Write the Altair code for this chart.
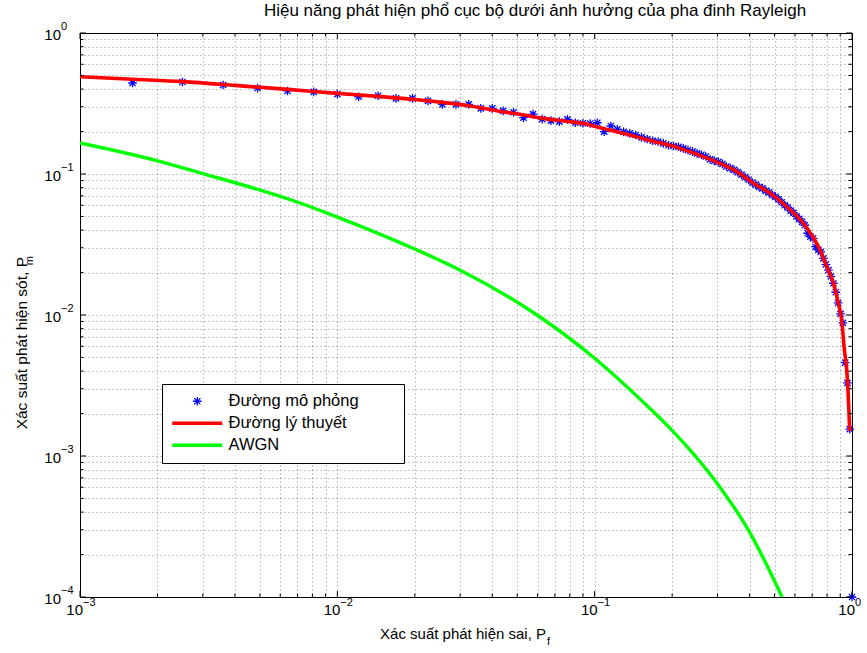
import altair as alt
import pandas as pd

# ---------------- data ----------------
series_names = ["Đường mô phỏng", "Đường lý thuyết", "AWGN"]
series_colors = ["#0000ff", "#ff0000", "#00ff00"]

pf_sim = [0.0016, 0.0025, 0.0036, 0.0049, 0.0064, 0.0081, 0.0100, 0.0121, 0.0144, 0.0169,
          0.0196, 0.0225, 0.0256, 0.0289, 0.0324, 0.0361, 0.0400, 0.0441, 0.0484, 0.0529,
          0.0576, 0.0625, 0.0676, 0.0729, 0.0784, 0.0841, 0.0900, 0.0961, 0.1024, 0.1089,
          0.1156, 0.1225, 0.1296, 0.1369, 0.1444, 0.1521, 0.1600, 0.1681, 0.1764, 0.1849,
          0.1936, 0.2025, 0.2116, 0.2209, 0.2304, 0.2401, 0.2500, 0.2601, 0.2704, 0.2809,
          0.2916, 0.3025, 0.3136, 0.3249, 0.3364, 0.3481, 0.3600, 0.3721, 0.3844, 0.3969,
          0.4096, 0.4225, 0.4356, 0.4489, 0.4624, 0.4761, 0.4900, 0.5041, 0.5184, 0.5329,
          0.5476, 0.5625, 0.5776, 0.5929, 0.6084, 0.6241, 0.6400, 0.6561, 0.6724, 0.6889,
          0.7056, 0.7225, 0.7396, 0.7569, 0.7744, 0.7921, 0.8100, 0.8281, 0.8464, 0.8649,
          0.8836, 0.9025, 0.9216, 0.9409, 0.9604, 0.9801, 1.0000]
pm_sim = [0.442, 0.449, 0.428, 0.407, 0.388, 0.382, 0.369, 0.353, 0.359, 0.344,
          0.344, 0.330, 0.312, 0.312, 0.312, 0.292, 0.292, 0.280, 0.274, 0.251,
          0.266, 0.245, 0.239, 0.235, 0.244, 0.231, 0.229, 0.228, 0.231, 0.200,
          0.219, 0.207, 0.199, 0.194, 0.189, 0.182, 0.177, 0.172, 0.170, 0.165,
          0.160, 0.158, 0.156, 0.152, 0.148, 0.144, 0.140, 0.137, 0.133, 0.127,
          0.124, 0.122, 0.118, 0.113, 0.110, 0.107, 0.103, 0.099, 0.095, 0.091,
          0.087, 0.084, 0.081, 0.079, 0.076, 0.074, 0.071, 0.069, 0.066, 0.063,
          0.060, 0.058, 0.055, 0.053, 0.050, 0.048, 0.0458, 0.0433, 0.0380, 0.0360,
          0.0350, 0.0305, 0.0290, 0.0280, 0.0252, 0.0228, 0.0208, 0.0188, 0.0168, 0.0145,
          0.0122, 0.0102, 0.0088, 0.0046, 0.0033, 0.00155, 0.0001]

pf_th = [0.001, 0.0016, 0.0025, 0.004, 0.005, 0.0064, 0.01, 0.0144, 0.0197, 0.0256,
         0.0324, 0.0416, 0.0529, 0.064, 0.0784, 0.0931, 0.1, 0.1373, 0.16, 0.215,
         0.25, 0.307, 0.336, 0.357, 0.414, 0.481, 0.558, 0.647, 0.708, 0.751,
         0.798, 0.847, 0.885, 0.912, 0.932, 0.96, 0.98]
pm_th = [0.490, 0.470, 0.452, 0.425, 0.412, 0.398, 0.373, 0.355, 0.339, 0.322,
         0.305, 0.281, 0.262, 0.247, 0.236, 0.226, 0.218, 0.189, 0.175, 0.152,
         0.138, 0.119, 0.110, 0.104, 0.0859, 0.073, 0.0586, 0.0447, 0.0353, 0.0289,
         0.0220, 0.0168, 0.0121, 0.0092, 0.0059, 0.0035, 0.0015]

pf_awgn = [0.001, 0.002, 0.00293, 0.00716, 0.01, 0.0204, 0.030, 0.0597, 0.0986,
           0.164, 0.202, 0.289, 0.402, 0.535]
pm_awgn = [0.166, 0.124, 0.102, 0.0623, 0.0495, 0.0289, 0.0208, 0.0100, 0.00504,
           0.00217, 0.00149, 0.000695, 0.000284, 0.0001]

x_major = [0.001, 0.01, 0.1, 1.0]
x_exp = ["−3", "−2", "−1", "0"]
x_minor = [0.002, 0.003, 0.004, 0.005, 0.006, 0.007, 0.008, 0.009,
           0.02, 0.03, 0.04, 0.05, 0.06, 0.07, 0.08, 0.09,
           0.2, 0.3, 0.4, 0.5, 0.6, 0.7, 0.8, 0.9]
y_major = [0.0001, 0.001, 0.01, 0.1, 1.0]
y_exp = ["−4", "−3", "−2", "−1", "0"]
y_minor = [0.0002, 0.0003, 0.0004, 0.0005, 0.0006, 0.0007, 0.0008, 0.0009,
           0.002, 0.003, 0.004, 0.005, 0.006, 0.007, 0.008, 0.009,
           0.02, 0.03, 0.04, 0.05, 0.06, 0.07, 0.08, 0.09,
           0.2, 0.3, 0.4, 0.5, 0.6, 0.7, 0.8, 0.9]

title_text = "Hiệu năng phát hiện phổ cục bộ dưới ảnh hưởng của pha đinh Rayleigh"
xlabel_main, xlabel_sub = "Xác suất phát hiện sai, P", "f"
ylabel_main, ylabel_sub = "Xác suất phát hiện sót, P", "m"

# ---------------- chart ----------------
F = "Liberation Sans"
W, H = 772, 564
STAR = "M-1,0L1,0M0,-1L0,1M-0.72,-0.72L0.72,0.72M-0.72,0.72L0.72,-0.72"

xs = alt.Scale(type="log", domain=[0.001, 1.0], nice=False)
ys = alt.Scale(type="log", domain=[0.0001, 1.0], nice=False)
grid_x = sorted(x_major + x_minor)
grid_y = sorted(y_major + y_minor)

grid_style = dict(grid=True, labels=False, ticks=False, domain=False, title=None,
                  gridDash=[1, 3], gridColor="#000000", gridOpacity=0.45, gridWidth=1)


def X():
    return alt.X("x:Q", scale=xs, axis=alt.Axis(values=grid_x, **grid_style))


def Y():
    return alt.Y("y:Q", scale=ys, axis=alt.Axis(values=grid_y, **grid_style))


df_sim = pd.DataFrame({"x": pf_sim, "y": pm_sim})
df_th = pd.DataFrame({"x": pf_th, "y": pm_th, "series": series_names[1]})
df_awgn = pd.DataFrame({"x": pf_awgn, "y": pm_awgn})

first = series_names[0]
legend = alt.Legend(
    # an invisible (white) title on the right only widens the box like MATLAB's legend
    title="MMMM", titleOrient="right", titleColor="white", titleFontSize=10.8,
    titlePadding=0, titleFont=F,
    orient="none", legendX=82, legendY=351,
    labelFont=F, labelFontSize=16.5, labelColor="black", labelOffset=23, labelLimit=600,
    strokeColor="black", fillColor="white", padding=9, rowPadding=5,
    symbolOffset=18,
    symbolType={"expr": f"datum.value === '{first}' ? '{STAR}' : 'stroke'"},
    symbolSize={"expr": f"datum.value === '{first}' ? 75 : 2500"},
    symbolStrokeWidth={"expr": f"datum.value === '{first}' ? 1.3 : 3.5"},
)

points = alt.Chart(df_sim).mark_point(shape=STAR, size=75, filled=False, strokeWidth=1.3,
                                       color=series_colors[0], clip=False, opacity=1).encode(
    x=X(), y=Y())

line_th = alt.Chart(df_th).mark_line(strokeWidth=3.6, clip=True, interpolate="monotone").encode(
    x=X(), y=Y(),
    color=alt.Color("series:N", scale=alt.Scale(domain=series_names, range=series_colors),
                    legend=legend))
line_awgn = alt.Chart(df_awgn).mark_line(color=series_colors[2], strokeWidth=3.4, clip=True,
                                         interpolate="monotone").encode(
    x=X(), y=Y())

# inward tick marks on all four sides
tick_layers = []
for vals, ln in ((x_major, 6), (x_minor, 3.5)):
    d = pd.DataFrame({"x": vals})
    tick_layers.append(alt.Chart(d).mark_rule(color="black", strokeWidth=1).encode(
        x=X(), y=alt.value(H), y2=alt.value(H - ln)))
    tick_layers.append(alt.Chart(d).mark_rule(color="black", strokeWidth=1).encode(
        x=X(), y=alt.value(0), y2=alt.value(ln)))
for vals, ln in ((y_major, 6), (y_minor, 3.5)):
    d = pd.DataFrame({"y": vals})
    tick_layers.append(alt.Chart(d).mark_rule(color="black", strokeWidth=1).encode(
        y=Y(), x=alt.value(0), x2=alt.value(ln)))
    tick_layers.append(alt.Chart(d).mark_rule(color="black", strokeWidth=1).encode(
        y=Y(), x=alt.value(W), x2=alt.value(W - ln)))

# tick labels 10^n
df_xl = pd.DataFrame({"x": x_major, "e": x_exp})
df_yl = pd.DataFrame({"y": y_major, "e": y_exp})
xl_base = alt.Chart(df_xl).mark_text(text="10", font=F, fontSize=15, align="right",
                                     baseline="middle", dx=3, color="black").encode(
    x=X(), y=alt.value(H + 13))
xl_sup = alt.Chart(df_xl).mark_text(font=F, fontSize=11, align="left",
                                    baseline="middle", dx=3, color="black").encode(
    x=X(), y=alt.value(H + 6), text="e:N")
yl_base = alt.Chart(df_yl).mark_text(text="10", font=F, fontSize=15, align="right",
                                     baseline="middle", dy=2, color="black").encode(
    y=Y(), x=alt.value(-19))
yl_sup = alt.Chart(df_yl).mark_text(font=F, fontSize=11, align="left",
                                    baseline="middle", dy=-6, color="black").encode(
    y=Y(), x=alt.value(-19), text="e:N")

# titles (axis titles carry subscripts)
df_title = pd.DataFrame({"t": [title_text]})
df_xt = pd.DataFrame({"t": [xlabel_main], "s": [xlabel_sub]})
df_yt = pd.DataFrame({"t": [ylabel_main], "s": [ylabel_sub]})
title_mark = alt.Chart(df_title).mark_text(font=F, fontSize=17, align="center",
                                           baseline="alphabetic", color="black").encode(
    text="t:N", x=alt.value(455), y=alt.value(-17))
xt_main = alt.Chart(df_xt).mark_text(font=F, fontSize=15, align="right", baseline="middle",
                                     color="black").encode(
    text="t:N", x=alt.value(466), y=alt.value(H + 37))
xt_sub = alt.Chart(df_xt).mark_text(font=F, fontSize=11, align="left", baseline="middle",
                                    color="black").encode(
    text="s:N", x=alt.value(467), y=alt.value(H + 45))
yt_main = alt.Chart(df_yt).mark_text(font=F, fontSize=15.5, align="right", baseline="middle",
                                     angle=270, color="black").encode(
    text="t:N", x=alt.value(-58), y=alt.value(224))
yt_sub = alt.Chart(df_yt).mark_text(font=F, fontSize=11, align="right", baseline="middle",
                                    angle=270, color="black").encode(
    text="s:N", x=alt.value(-50), y=alt.value(223))

chart = alt.layer(
    points, line_th, line_awgn, *tick_layers,
    xl_base, xl_sup, yl_base, yl_sup, title_mark, xt_main, xt_sub, yt_main, yt_sub,
).properties(
    width=W, height=H,
    autosize=alt.AutoSizeParams(type="none"),
    padding={"left": 80, "top": 33, "right": 15, "bottom": 56},
    background="white",
).configure_view(stroke="black", strokeWidth=1)

chart.save("out.html", embed_options={"renderer": "svg", "actions": False})
